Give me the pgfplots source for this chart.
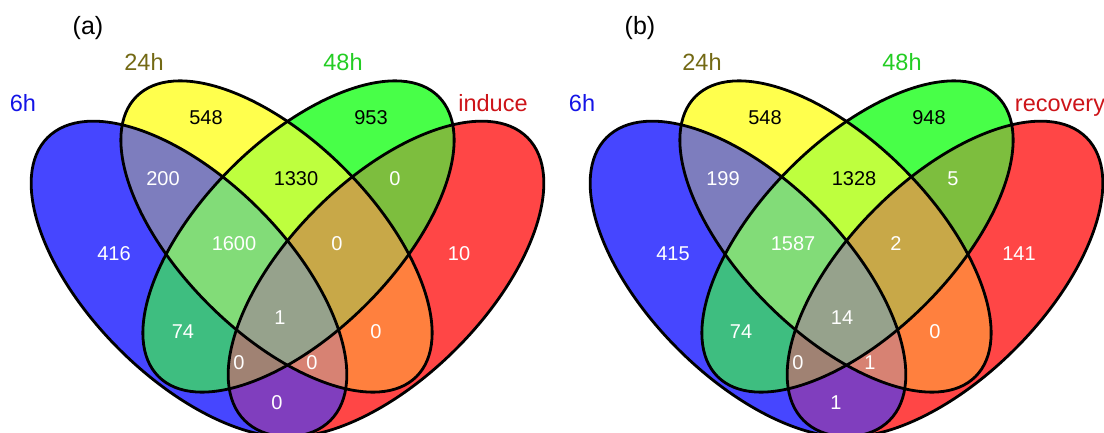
\documentclass[border=0pt]{standalone}
\usepackage{fontspec}
\setmainfont{Liberation Sans}
\usepackage{pgfplots}
\pgfplotsset{compat=1.18}

\definecolor{cB}{RGB}{70,70,255}
\definecolor{cY}{RGB}{255,255,77}
\definecolor{cG}{RGB}{72,255,72}
\definecolor{cR}{RGB}{255,70,70}
\definecolor{cBY}{RGB}{125,125,190}
\definecolor{cYG}{RGB}{190,255,62}
\definecolor{cGR}{RGB}{125,190,62}
\definecolor{cBG}{RGB}{62,190,128}
\definecolor{cYR}{RGB}{255,128,62}
\definecolor{cBR}{RGB}{128,62,190}
\definecolor{cBYG}{RGB}{130,220,120}
\definecolor{cYGR}{RGB}{200,168,72}
\definecolor{cBGR}{RGB}{160,130,115}
\definecolor{cBYR}{RGB}{215,130,115}
\definecolor{cBYGR}{RGB}{150,162,140}
\definecolor{cLB}{RGB}{20,20,230}
\definecolor{cLY}{RGB}{115,105,20}
\definecolor{cLG}{RGB}{35,205,35}
\definecolor{cLR}{RGB}{205,20,25}

\newcommand{\ShB}[2]{#1[rotate around={-45:(axis cs:#2,153)}] (axis cs:#2,153) ellipse [x radius=200pt, y radius=99pt];}
\newcommand{\ShR}[2]{#1[rotate around={45:(axis cs:#2,153)}] (axis cs:#2,153) ellipse [x radius=200pt, y radius=99pt];}
\newcommand{\ShY}[2]{#1[rotate around={-45:(axis cs:#2,195.5)}] (axis cs:#2,195.5) ellipse [x radius=198pt, y radius=96pt];}
\newcommand{\ShG}[2]{#1[rotate around={45:(axis cs:#2,195.5)}] (axis cs:#2,195.5) ellipse [x radius=198pt, y radius=96pt];}

% #1 blue centre x, #2 yellow, #3 green, #4 red
\newcommand{\Venn}[4]{%
 \ShB{\fill[cB]}{#1}\ShY{\fill[cY]}{#2}\ShG{\fill[cG]}{#3}\ShR{\fill[cR]}{#4}%
 \begin{scope}\ShB{\clip}{#1}\ShY{\fill[cBY]}{#2}\end{scope}%
 \begin{scope}\ShB{\clip}{#1}\ShG{\fill[cBG]}{#3}\end{scope}%
 \begin{scope}\ShB{\clip}{#1}\ShR{\fill[cBR]}{#4}\end{scope}%
 \begin{scope}\ShY{\clip}{#2}\ShG{\fill[cYG]}{#3}\end{scope}%
 \begin{scope}\ShY{\clip}{#2}\ShR{\fill[cYR]}{#4}\end{scope}%
 \begin{scope}\ShG{\clip}{#3}\ShR{\fill[cGR]}{#4}\end{scope}%
 \begin{scope}\ShB{\clip}{#1}\ShY{\clip}{#2}\ShG{\fill[cBYG]}{#3}\end{scope}%
 \begin{scope}\ShB{\clip}{#1}\ShY{\clip}{#2}\ShR{\fill[cBYR]}{#4}\end{scope}%
 \begin{scope}\ShB{\clip}{#1}\ShG{\clip}{#3}\ShR{\fill[cBGR]}{#4}\end{scope}%
 \begin{scope}\ShY{\clip}{#2}\ShG{\clip}{#3}\ShR{\fill[cYGR]}{#4}\end{scope}%
 \begin{scope}\ShB{\clip}{#1}\ShY{\clip}{#2}\ShG{\clip}{#3}\ShR{\fill[cBYGR]}{#4}\end{scope}%
 \ShB{\draw[line width=2.8pt]}{#1}\ShY{\draw[line width=2.8pt]}{#2}%
 \ShG{\draw[line width=2.8pt]}{#3}\ShR{\draw[line width=2.8pt]}{#4}%
}

\begin{document}
\begin{tikzpicture}
\useasboundingbox (0,0) rectangle (1104pt,432pt);
\begin{axis}[
  at={(0,0)}, anchor=origin,
  x=1pt, y=1pt, xmin=0, xmax=1104, ymin=0, ymax=432,
  hide axis, clip=true,
  every node near coord/.append style={anchor=center, font=\fontsize{20}{23}\selectfont},
]
\pgfplotsextra{\Venn{189}{276.5}{298.5}{386}}
\pgfplotsextra{\Venn{748}{835.5}{857.5}{945}}

% counts in white
\addplot[only marks, mark=none, nodes near coords, point meta=explicit symbolic,
  every node near coord/.append style={text=white}] table[meta=lab] {
x y lab
163 253 200
395 253 0
114 178 416
234 188 1600
337 188 0
459 178 10
183 100 74
280 114 1
376 100 0
239 69 0
312 69 0
277 29 0
723 253 199
953 253 5
673 178 415
793 188 1587
896 188 2
1019 178 141
741 100 74
842 114 14
935 100 0
798 69 0
870 69 1
836 29 1
};
% counts in black
\addplot[only marks, mark=none, nodes near coords, point meta=explicit symbolic,
  every node near coord/.append style={text=black}] table[meta=lab] {
x y lab
206 314 548
371 314 953
296 253 1330
765 314 548
929 314 948
854 253 1328
};

\begin{scope}[font=\fontsize{23.5}{27}\selectfont]
\node[anchor=base, font=\fontsize{25}{28}\selectfont] at (axis cs:88,397) {(a)};
\node[anchor=base, text=cLB] at (axis cs:23,320) {6h};
\node[anchor=base, text=cLY] at (axis cs:144,361) {24h};
\node[anchor=base, text=cLG] at (axis cs:343,361) {48h};
\node[anchor=base, text=cLR] at (axis cs:493,320) {induce};
\node[anchor=base, font=\fontsize{25}{28}\selectfont] at (axis cs:640,397) {(b)};
\node[anchor=base, text=cLB] at (axis cs:582,320) {6h};
\node[anchor=base, text=cLY] at (axis cs:702,361) {24h};
\node[anchor=base, text=cLG] at (axis cs:902,361) {48h};
\node[anchor=base, text=cLR] at (axis cs:1060,320) {recovery};
\end{scope}
\end{axis}
\end{tikzpicture}
\end{document}
